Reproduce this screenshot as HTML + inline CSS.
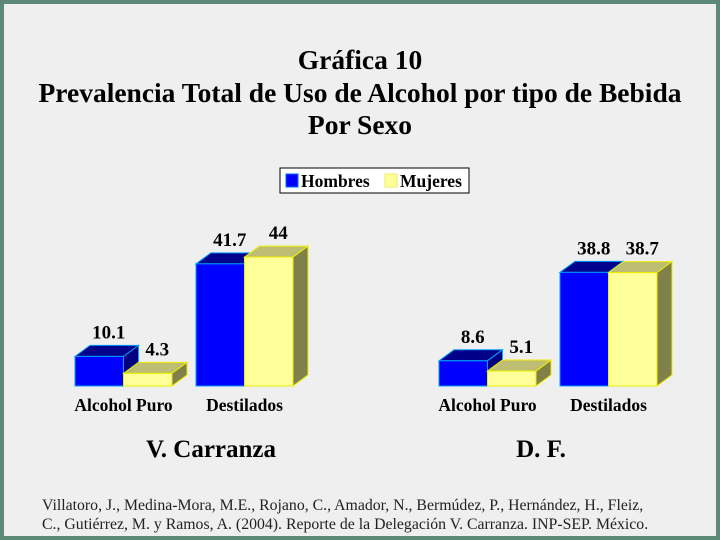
<!DOCTYPE html>
<html><head><meta charset="utf-8"><style>
body{margin:0;width:720px;height:540px;overflow:hidden}
#frame{position:absolute;left:0;top:0;width:712px;height:532px;border:4px solid #5d8a78;background:#efefef}
</style></head><body>
<div id="frame"></div>
<svg id="chart" width="720" height="540" style="position:absolute;left:0;top:0" font-family="Liberation Serif, serif">
<g font-weight="bold" font-size="27.5" text-anchor="middle" fill="#000">
<text x="360" y="69">Gráfica 10</text>
<text x="360" y="102">Prevalencia Total de Uso de Alcohol por tipo de Bebida</text>
<text x="360" y="134">Por Sexo</text>
</g>
<g>
<rect x="280" y="168" width="189" height="25" fill="#fff" stroke="#000" stroke-width="1"/>
<rect x="286" y="174" width="12" height="13" fill="#0000ff" stroke="#0070ff"/>
<text x="301" y="187" font-size="17.5" font-weight="bold">Hombres</text>
<rect x="385" y="174" width="12" height="13" fill="#ffff99" stroke="#eeee66"/>
<text x="400" y="187" font-size="17.5" font-weight="bold">Mujeres</text>
</g>
<g id="bars"></g>
<g font-weight="bold" font-size="25" text-anchor="middle">
<text x="211" y="457">V. Carranza</text>
<text x="541" y="457">D. F.</text>
</g>
<g font-size="15.8" fill="#222">
<text x="42" y="510">Villatoro, J., Medina-Mora, M.E., Rojano, C., Amador, N., Bermúdez, P., Hernández, H., Fleiz,</text>
<text x="42" y="529">C., Gutiérrez, M. y Ramos, A. (2004). Reporte de la Delegación V. Carranza. INP-SEP. México.</text>
</g>
</svg>
<script>
const groups=["V. Carranza","D. F."];
const categories=["Alcohol Puro","Destilados"];
const hombres=[[10.1,41.7],[8.6,38.8]];
const mujeres=[[4.3,44],[5.1,38.7]];
const valueLabels={hombres:[["10.1","41.7"],["8.6","38.8"]],mujeres:[["4.3","44"],["5.1","38.7"]]};
const NS="http://www.w3.org/2000/svg";
const g=document.getElementById('bars');
const base=386, scale=2.93, bw=48.5, dx=15, dy=11;
const groupX=[75,439], catStep=121;
function yv(v){return base-v*scale;}
function mk(tag,a){const e=document.createElementNS(NS,tag);for(const k in a)e.setAttribute(k,a[k]);g.appendChild(e);return e;}
const styles={hombres:{front:"#0000ff",top:"#00008b",side:"#000080",stroke:"#00a0ff"},mujeres:{front:"#ffff99",top:"#bdbd73",side:"#80804a",stroke:"#eeee00"}};
groups.forEach((gr,gi)=>{
 categories.forEach((c,ci)=>{
  const x0=groupX[gi]+ci*catStep;
  [["hombres",hombres],["mujeres",mujeres]].forEach(([s,arr],si)=>{
   const v=arr[gi][ci];const x=x0+si*bw;const y=yv(v);const st=styles[s];
   const top=mk('polygon',{points:`${x},${y} ${x+dx},${y-dy} ${x+bw+dx},${y-dy} ${x+bw},${y}`,fill:st.top,stroke:st.stroke,'stroke-width':1});
   
   const side=mk('polygon',{points:`${x+bw},${y} ${x+bw+dx},${y-dy} ${x+bw+dx},${base-dy} ${x+bw},${base}`,fill:st.side,stroke:st.stroke,'stroke-width':1});
   
   const r=mk('rect',{x:x,y:y,width:bw,height:base-y,fill:st.front,stroke:st.stroke,'stroke-width':1});
   
   const t=mk('text',{x:x+bw/2+dx/2+2,y:y-dy-7,'font-size':19,'font-weight':'bold','text-anchor':'middle','font-family':'Liberation Serif, serif'});
   t.textContent=valueLabels[s][gi][ci];
   
  });
  const cl=mk('text',{x:x0+bw,y:411,'font-size':17.5,'font-weight':'bold','text-anchor':'middle','font-family':'Liberation Serif, serif'});
  cl.textContent=c;
  
 });
});
</script>
</body></html>
